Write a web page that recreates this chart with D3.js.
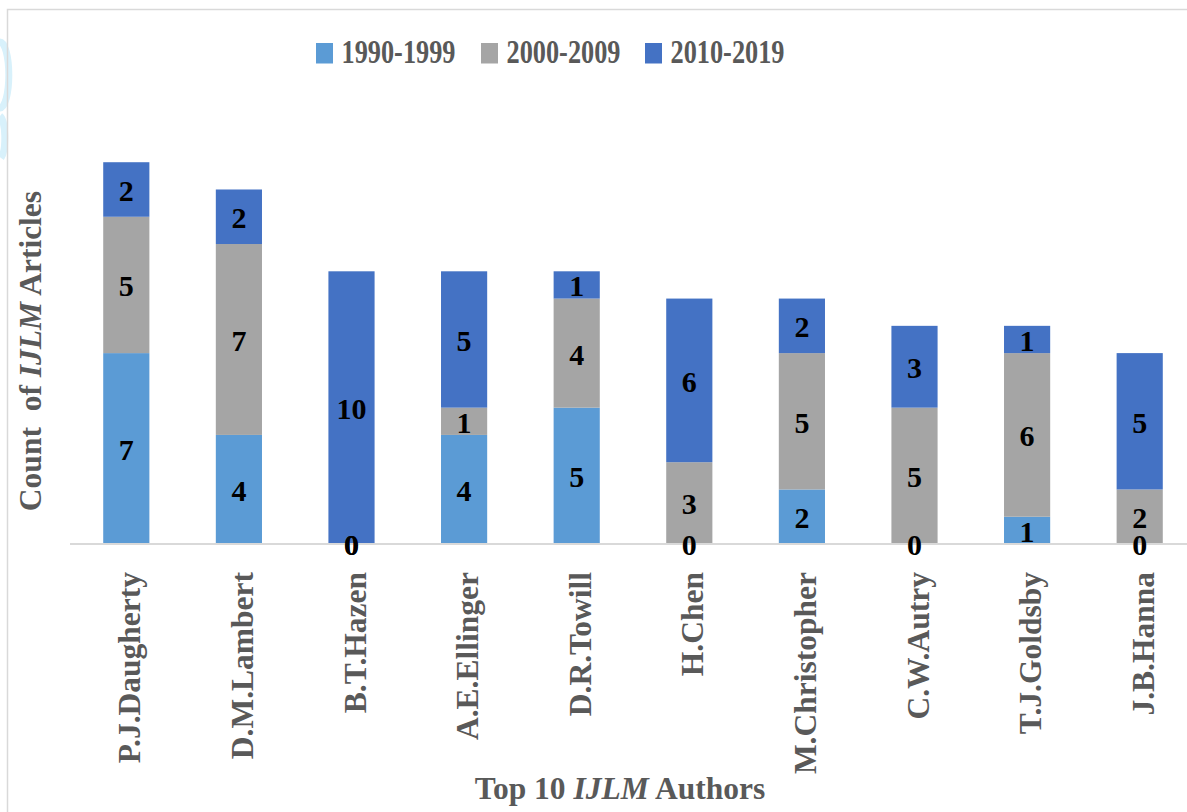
<!DOCTYPE html>
<html>
<head>
<meta charset="utf-8">
<script src="https://cdn.jsdelivr.net/npm/d3@7"></script>
<style>
  html, body { margin: 0; padding: 0; background: #fff; }
  svg { display: block; }
  text { font-family: "Liberation Serif", "Times New Roman", serif; font-weight: bold; }
</style>
</head>
<body>
<svg id="chart" width="1187" height="812"></svg>
<script>
// Article counts per author, split by decade
const authors = ["P.J.Daugherty", "D.M.Lambert", "B.T.Hazen", "A.E.Ellinger", "D.R.Towill",
                 "H.Chen", "M.Christopher", "C.W.Autry", "T.J.Goldsby", "J.B.Hanna"];
const periods = ["1990-1999", "2000-2009", "2010-2019"];
const counts1990s = [7, 4, 0, 4, 5, 0, 2, 0, 1, 0];
const counts2000s = [5, 7, 0, 1, 4, 3, 5, 5, 6, 2];
const counts2010s = [2, 2, 10, 5, 1, 6, 2, 3, 1, 5];
const periodColors = ["#5B9BD5", "#A5A5A5", "#4472C4"];

const rows = authors.map((a, i) => ({
  author: a,
  "1990-1999": counts1990s[i],
  "2000-2009": counts2000s[i],
  "2010-2019": counts2010s[i]
}));

const svg = d3.select("#chart");

// faint decoration clipped at the left edge
const deco = svg.append("g").attr("fill", "none").attr("stroke", "#d8f1fb").attr("stroke-width", 7);
deco.append("path").attr("d", "M0,42 A8,30 0 0 1 0,108");
deco.append("path").attr("d", "M0,116 A6,22 0 0 1 1,158");

// outer frame
svg.append("rect")
  .attr("x", 7.5).attr("y", 9.5)
  .attr("width", 1220).attr("height", 840)
  .attr("fill", "none").attr("stroke", "#d9d9d9").attr("stroke-width", 1.5);

const baseY = 544;
const x = d3.scaleBand().domain(authors).range([70, 1196]).paddingInner(0).paddingOuter(0);
const y = d3.scaleLinear().domain([0, 16]).range([baseY, baseY - 16 * 27.27]);
const color = d3.scaleOrdinal().domain(periods).range(periodColors);
const barW = x.bandwidth() * 0.41;

const stacked = d3.stack().keys(periods)(rows);

const layers = svg.append("g").selectAll("g")
  .data(stacked).join("g")
  .attr("fill", d => color(d.key));

layers.selectAll("rect")
  .data(d => d)
  .join("rect")
  .attr("x", d => x(d.data.author) + (x.bandwidth() - barW) / 2)
  .attr("width", barW)
  .attr("y", d => y(d[1]))
  .attr("height", d => y(d[0]) - y(d[1]));

// x axis line
svg.append("line")
  .attr("x1", 70).attr("x2", 1196)
  .attr("y1", baseY).attr("y2", baseY)
  .attr("stroke", "#d9d9d9").attr("stroke-width", 2);

// value labels centred in each segment
const labels = svg.append("g");
stacked.forEach(layer => {
  labels.selectAll(null)
    .data(layer)
    .join("text")
    .attr("x", d => x(d.data.author) + x.bandwidth() / 2)
    .attr("y", d => (y(d[0]) + y(d[1])) / 2)
    .attr("dy", "0.38em")
    .attr("text-anchor", "middle")
    .attr("font-size", 30)
    .attr("font-family", "Liberation Serif, Times New Roman, serif")
    .attr("fill", "#000")
    .text(d => d[1] - d[0]);
});

// category labels, rotated
const xAxis = d3.axisBottom(x).tickSize(0).tickPadding(0);
const gx = svg.append("g").attr("transform", `translate(0,${baseY})`).call(xAxis);
gx.select(".domain").remove();
gx.selectAll(".tick text")
  .attr("transform", "rotate(-90)")
  .attr("x", -28)
  .attr("y", 0)
  .attr("dy", "0.45em")
  .attr("text-anchor", "end")
  .attr("font-size", 31.5)
  .attr("font-family", "Liberation Serif, Times New Roman, serif")
  .attr("font-weight", "bold")
  .attr("fill", "#595959");

// axis titles
const xt = svg.append("text")
  .attr("x", 620).attr("y", 799)
  .attr("text-anchor", "middle")
  .attr("font-size", 31.5)
  .attr("fill", "#595959");
xt.append("tspan").text("Top 10 ");
xt.append("tspan").attr("font-style", "italic").text("IJLM");
xt.append("tspan").text(" Authors");

const yt = svg.append("text")
  .attr("transform", "translate(41,351) rotate(-90)")
  .attr("text-anchor", "middle")
  .attr("font-size", 31.5)
  .attr("fill", "#595959")
  .style("white-space", "pre");
yt.append("tspan").text("Count  of ");
yt.append("tspan").attr("font-style", "italic").text("IJLM");
yt.append("tspan").text(" Articles");

// legend
const legendX = [316, 481, 645];
const legend = svg.append("g");
periods.forEach((p, i) => {
  legend.append("rect")
    .attr("x", legendX[i]).attr("y", 43)
    .attr("width", 17).attr("height", 20.5)
    .attr("fill", color(p));
  legend.append("text")
    .attr("x", legendX[i] + 25.5).attr("y", 63.3)
    .attr("font-size", 34)
    .attr("textLength", 114)
    .attr("lengthAdjust", "spacingAndGlyphs")
    .attr("fill", "#595959")
    .text(p);
});
</script>
</body>
</html>
